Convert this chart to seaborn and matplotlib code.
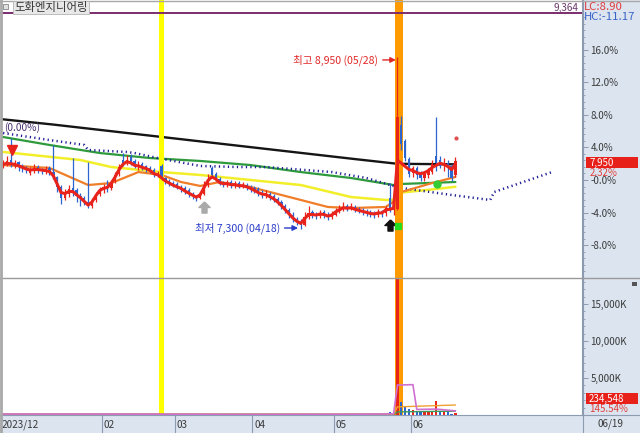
import matplotlib
matplotlib.use('Agg')
import matplotlib.pyplot as plt
from matplotlib.lines import Line2D
from matplotlib.patches import Rectangle
from matplotlib.path import Path
import seaborn as sns
import numpy as np

sns.set_style('white')
plt.rcParams['font.family'] = ['Noto Sans CJK KR', 'DejaVu Sans']

W, H = 640, 433
base = 7770  # price at 0.0%

# ---- daily candles, trading day index 0 = 2023/12/22 ... 117 = 06/19
opens = [7900, 7930, 7960, 7900, 7940, 7900, 7880, 7840, 7860, 7890,
         7870, 7850, 7880, 7850, 7800, 7700, 7600, 7640, 7690, 7670,
         7620, 7600, 7560, 7520, 7580, 7640, 7690, 7710, 7690, 7760,
         7830, 7960, 7930, 7990, 7950, 7890, 7920, 7900, 7880, 7870,
         7820, 7900, 7790, 7760, 7740, 7730, 7700, 7690, 7670, 7640,
         7620, 7600, 7640, 7720, 7880, 7830, 7780, 7740, 7720, 7750,
         7710, 7740, 7700, 7720, 7700, 7690, 7680, 7650, 7620, 7640,
         7620, 7590, 7560, 7520, 7480, 7440, 7400, 7380, 7340, 7420,
         7460, 7440, 7430, 7460, 7440, 7420, 7440, 7470, 7490, 7520,
         7500, 7510, 7490, 7480, 7470, 7460, 7450, 7440, 7470, 7450,
         7600, 7480, 7490, 8300, 8140, 7970, 7840, 7880, 7830, 7790,
         7820, 7850, 8000, 7960, 7900, 7930, 7900, 7820]
closes = [7930, 7950, 7910, 7930, 7900, 7880, 7870, 7860, 7880, 7870,
          7860, 7870, 7850, 7800, 7700, 7600, 7640, 7680, 7660, 7620,
          7600, 7560, 7520, 7580, 7640, 7680, 7700, 7690, 7750, 7820,
          7890, 7930, 7960, 7940, 7900, 7910, 7890, 7880, 7860, 7820,
          7830, 7790, 7760, 7740, 7720, 7700, 7690, 7660, 7640, 7620,
          7600, 7640, 7720, 7780, 7820, 7780, 7740, 7730, 7740, 7720,
          7730, 7710, 7720, 7700, 7690, 7670, 7650, 7630, 7640, 7610,
          7590, 7560, 7520, 7480, 7440, 7400, 7370, 7340, 7420, 7450,
          7440, 7430, 7450, 7440, 7420, 7440, 7470, 7490, 7510, 7500,
          7510, 7490, 7480, 7470, 7460, 7450, 7440, 7460, 7450, 7500,
          7480, 7500, 8370, 8110, 7980, 7830, 7880, 7820, 7790, 7840,
          7860, 7920, 7930, 7900, 7930, 7880, 7790, 7950]
highs = [7960, 8000, 8170, 7960, 7950, 7920, 7900, 7890, 7920, 7910,
         7880, 7900, 7900, 8100, 7810, 7720, 7680, 7720, 7980, 7690,
         7650, 7620, 7940, 7600, 7660, 7700, 7730, 7770, 7770, 7850,
         7920, 8030, 8010, 8020, 7970, 7950, 7940, 7910, 7900, 7880,
         7860, 7920, 7800, 7780, 7760, 7750, 7720, 7710, 7690, 7660,
         7630, 7660, 7760, 7830, 7900, 7850, 7800, 7760, 7770, 7770,
         7760, 7760, 7750, 7740, 7720, 7710, 7700, 7670, 7670, 7660,
         7640, 7610, 7580, 7540, 7500, 7460, 7420, 7400, 7460, 7520,
         7480, 7460, 7480, 7480, 7460, 7470, 7500, 7530, 7560, 7540,
         7550, 7530, 7510, 7500, 7490, 7480, 7470, 7490, 7480, 7520,
         7740, 7530, 8950, 8380, 8160, 7990, 7900, 7900, 7860, 7860,
         7880, 7960, 8370, 8000, 7980, 7960, 7920, 7990]
lows = [7880, 7900, 7890, 7880, 7860, 7850, 7840, 7820, 7840, 7840,
        7830, 7830, 7820, 7780, 7660, 7540, 7580, 7610, 7620, 7560,
        7520, 7530, 7500, 7500, 7560, 7620, 7650, 7660, 7670, 7740,
        7810, 7900, 7910, 7910, 7880, 7870, 7870, 7850, 7840, 7800,
        7800, 7770, 7730, 7710, 7700, 7680, 7660, 7640, 7610, 7590,
        7570, 7590, 7630, 7700, 7790, 7760, 7720, 7700, 7700, 7690,
        7690, 7690, 7690, 7670, 7660, 7650, 7620, 7600, 7600, 7580,
        7560, 7530, 7490, 7450, 7410, 7370, 7340, 7300, 7330, 7400,
        7410, 7400, 7410, 7410, 7390, 7400, 7430, 7450, 7470, 7470,
        7480, 7460, 7450, 7440, 7430, 7420, 7410, 7420, 7420, 7430,
        7460, 7440, 7480, 8060, 7950, 7800, 7800, 7780, 7760, 7760,
        7790, 7830, 7860, 7880, 7860, 7800, 7760, 7800]
# volume, thousands of shares
volume = [150, 120, 180, 90, 110, 80, 70, 60, 90, 70,
          60, 80, 70, 140, 160, 200, 120, 100, 150, 110,
          90, 100, 180, 120, 110, 90, 80, 70, 100, 130,
          140, 160, 120, 110, 90, 80, 70, 60, 70, 80,
          70, 120, 90, 70, 60, 80, 70, 60, 80, 70,
          90, 110, 140, 180, 130, 100, 80, 70, 60, 70,
          60, 70, 60, 80, 70, 60, 80, 90, 70, 80,
          90, 100, 110, 120, 130, 150, 140, 160, 170, 120,
          90, 80, 90, 80, 70, 80, 100, 110, 120, 90,
          80, 70, 70, 60, 60, 70, 60, 80, 90, 150,
          380, 200, 19600, 1750, 1050, 800, 650, 520, 450, 430,
          420, 480, 1900, 560, 520, 500, 96, 235]

# short moving average (red line), read per day
ma_fast = [7920, 7930, 7925, 7920, 7905, 7890, 7875, 7865, 7870, 7870,
           7865, 7860, 7850, 7810, 7730, 7650, 7640, 7660, 7660, 7630,
           7600, 7565, 7530, 7560, 7620, 7670, 7690, 7700, 7740, 7800,
           7870, 7920, 7945, 7935, 7910, 7905, 7890, 7880, 7860, 7830,
           7820, 7790, 7760, 7740, 7720, 7705, 7690, 7665, 7645, 7625,
           7605, 7630, 7700, 7765, 7800, 7780, 7745, 7735, 7735, 7725,
           7725, 7715, 7715, 7705, 7690, 7670, 7650, 7635, 7630, 7610,
           7590, 7560, 7525, 7485, 7445, 7405, 7375, 7355, 7400, 7440,
           7440, 7435, 7445, 7440, 7425, 7435, 7465, 7485, 7505, 7500,
           7505, 7490, 7480, 7470, 7460, 7450, 7445, 7455, 7455, 7485,
           7490, 7500, 7960, 7930, 7900, 7870, 7860, 7840, 7830, 7840,
           7860, 7890, 7910, 7930, 7920, 7900, 7870, 7920]

# longer averages, read at knots
ma10_idx = [0, 12, 22, 28, 35, 41, 46, 51, 56, 64, 77, 84, 90, 99, 102, 103, 111, 117]
ma10_val = [7913, 7885, 7722, 7741, 7846, 7818, 7751, 7713, 7751, 7703, 7579, 7512, 7502, 7512, 7590, 7655, 7741, 7799]
ma20_idx = [0, 20, 28, 41, 51, 77, 90, 99, 101, 102, 103, 111, 117]
ma20_val = [8038, 7961, 7894, 7846, 7818, 7722, 7607, 7579, 7580, 7625, 7650, 7680, 7705]
ma60_idx = [0, 12, 25, 38, 51, 64, 77, 90, 101, 103, 117]
ma60_val = [8181, 8105, 8028, 7980, 7952, 7913, 7846, 7789, 7722, 7732, 7751]
ma120_idx = [0, 13, 26, 39, 52, 65, 78, 91, 102, 117]
ma120_val = [8350, 8300, 8245, 8190, 8135, 8080, 8025, 7970, 7925, 7920]
span_idx = [0, 12, 21, 22, 32, 34, 40, 51, 61, 68, 85, 94, 101, 103, 116, 126, 127, 142]
span_val = [8219, 8152, 8105, 8057, 8038, 8028, 7980, 7904, 7894, 7894, 7846, 7789, 7713, 7694, 7627, 7579, 7655, 7846]

vma5_idx = [0, 30, 60, 90, 101, 102, 106, 107, 112, 117]
vma5_val = [130, 120, 90, 100, 150, 4050, 4100, 750, 800, 560]
vma20_idx = [0, 101, 102, 117]
vma20_val = [120, 115, 1100, 1350]
vma60_idx = [0, 101, 102, 117]
vma60_val = [110, 105, 420, 520]

pct_ticks = [16, 12, 8, 4, 0, -4, -8]
pct_labels = ['16.0%', '12.0%', '8.0%', '4.0%', '-0.0%', '-4.0%', '-8.0%']
vol_ticks = [5000, 10000, 15000]
vol_labels = ['5,000K', '10,000K', '15,000K']
month_idx = [26, 45, 65, 86, 106]
month_labels = ['02', '03', '04', '05', '06']

RED = '#e8231c'
BLUE = '#2c64d0'
PANEL = '#dbe4ef'
EDGE = '#8c9bb0'

o = np.array(opens); c = np.array(closes)
hi = np.array(highs); lo = np.array(lows)
idx = np.arange(len(c))
candle_col = np.where(c >= o, RED, BLUE)
prev = np.r_[c[0], c[:-1]]
vol_col = np.where(c >= prev, RED, BLUE)


def box(x0, y0, x1, y1):
    return [x0 / W, 1 - y1 / H, (x1 - x0) / W, (y1 - y0) / H]


def figline(x0, y0, x1, y1, **kw):
    fig.add_artist(Line2D([x0 / W, x1 / W], [1 - y0 / H, 1 - y1 / H],
                          transform=fig.transFigure, **kw))


fig = plt.figure(figsize=(6.4, 4.33), dpi=100)
fig.patch.set_facecolor(PANEL)

ax = fig.add_axes(box(0, 0, 582, 278))
axv = fig.add_axes(box(0, 278, 582, 415))
axd = fig.add_axes(box(0, 415, 582, 433))
XL = (-0.80, 149.74)

# ---- price panel
ax.set_facecolor('white')
ax.set_xlim(*XL)
ax.set_ylim(6833, 9491)
for a in (ax, axv):
    a.axvspan(40.32, 41.62, color='#ffff00', lw=0, zorder=2.5)
    a.axvspan(101.4, 103.4, color='#ff9a00', lw=0, zorder=2.5)

sns.lineplot(x=ma120_idx, y=ma120_val, ax=ax, color='#151515', lw=1.7, zorder=2)
sns.lineplot(x=ma60_idx, y=ma60_val, ax=ax, color='#2e9a3c', lw=1.6, zorder=2)
sns.lineplot(x=ma20_idx, y=ma20_val, ax=ax, color='#f2ee2a', lw=1.8, zorder=2)
sns.lineplot(x=span_idx, y=span_val, ax=ax, color='#1e1e96', lw=1.8,
             linestyle=(0, (0.5, 1.3)), zorder=2)
sns.lineplot(x=ma10_idx, y=ma10_val, ax=ax, color='#f07d28', lw=1.6, zorder=2.2)

ax.vlines(idx, lo, hi, colors=candle_col, lw=0.9, zorder=3)
ax.bar(idx, np.maximum(np.abs(c - o), 10), bottom=np.minimum(o, c), width=0.6,
       color=candle_col, lw=0, zorder=3)
sns.lineplot(x=idx, y=ma_fast, ax=ax, color=RED, lw=2.2, zorder=3.2)

ax.axhline(9364, color='#7b2d6b', lw=1.4, zorder=4)

arrow = Path([(0, 1), (1, 0), (0.45, 0), (0.45, -1), (-0.45, -1), (-0.45, 0), (-1, 0), (0, 1)])
ax.plot([2.2], [8060], marker='v', ms=7, color=RED, zorder=5)
ax.plot([52.0], [7512], marker=arrow, ms=8, color='#aaaaaa', zorder=5)
ax.plot([100.1], [7340], marker=arrow, ms=8, color='#111111', zorder=5)
ax.plot([102.1], [7330], marker='s', ms=5, color='#22dd22', zorder=5)
ax.plot([112.2], [7735], marker='o', ms=5, color='#33cc33', zorder=5)
ax.plot([117.2], [8172], marker='o', ms=2, color='#e05050', zorder=5)

ax.annotate('최고 8,950 (05/28)', xy=(101.6, 8918), xytext=(97.0, 8918),
            ha='right', va='center', color='#e02828', fontsize=7.6,
            arrowprops=dict(arrowstyle='-|>', color='#e02828', lw=1,
                            shrinkA=1, shrinkB=0, mutation_scale=8), zorder=6)
ax.annotate('최저 7,300 (04/18)', xy=(76.3, 7311), xytext=(71.6, 7311),
            ha='right', va='center', color='#2a3cc8', fontsize=7.6,
            arrowprops=dict(arrowstyle='-|>', color='#2a3cc8', lw=1,
                            shrinkA=1, shrinkB=0, mutation_scale=8), zorder=6)
ax.text(0.25, 8267, '(0.00%)', color='#4a3070', fontsize=7.3, ha='left', va='center', zorder=6)

ax.yaxis.tick_right()
ax.set_yticks([base * (1 + p / 100) for p in pct_ticks])
ax.set_yticklabels(pct_labels)
ax.set_yticks([base * (1 + p / 100) for p in np.arange(-12, 20.1, 0.8)], minor=True)
ax.tick_params(axis='y', which='major', length=4, width=0.7, color=EDGE,
               labelsize=7, labelcolor='#3a3a3a', pad=2)
ax.tick_params(axis='y', which='minor', length=2, width=0.6, color=EDGE)
ax.tick_params(axis='x', bottom=False, labelbottom=False)
ax.set_xlabel(''); ax.set_ylabel('')

# ---- volume panel
axv.set_facecolor('white')
axv.set_xlim(*XL)
axv.set_ylim(0, 18514)
axv.bar(idx, volume, width=0.6, color=vol_col, lw=0, zorder=3)
sns.lineplot(x=vma60_idx, y=vma60_val, ax=axv, color='#3a9a5a', lw=1.0, zorder=3.5)
sns.lineplot(x=vma20_idx, y=vma20_val, ax=axv, color='#f0a030', lw=1.0, zorder=3.5)
sns.lineplot(x=vma5_idx, y=vma5_val, ax=axv, color='#d070d0', lw=1.2, zorder=3.6)
axv.yaxis.tick_right()
axv.set_yticks(vol_ticks)
axv.set_yticklabels(vol_labels)
axv.set_yticks(np.arange(0, 18001, 1000), minor=True)
axv.tick_params(axis='y', which='major', length=4, width=0.7, color=EDGE,
                labelsize=7, labelcolor='#3a3a3a', pad=2)
axv.tick_params(axis='y', which='minor', length=2, width=0.6, color=EDGE)
axv.tick_params(axis='x', bottom=False, labelbottom=False)
axv.set_xlabel(''); axv.set_ylabel('')

for a in (ax, axv):
    for s in ('top', 'left', 'bottom'):
        a.spines[s].set_visible(False)
    a.spines['right'].set_color(EDGE)
    a.spines['right'].set_linewidth(0.8)

# ---- date strip
axd.set_facecolor(PANEL)
axd.set_xlim(*XL)
axd.set_ylim(0, 1)
axd.set_xticks([]); axd.set_yticks([])
for s in axd.spines.values():
    s.set_visible(False)
axd.text(-0.3, 0.45, '2023/12', fontsize=7.2, color='#3a3a3a', ha='left', va='center')
for i, lab in zip(month_idx, month_labels):
    axd.axvline(i - 0.5, color=EDGE, lw=0.8)
    axd.text(i - 0.05, 0.45, lab, fontsize=7.2, color='#3a3a3a', ha='left', va='center')

# ---- header and right-side labels
fig.add_artist(Rectangle((3 / W, 1 - 9 / H), 5 / W, 5 / H, transform=fig.transFigure,
                         fc='#e0e0e0', ec='#888888', lw=0.6))
fig.text(14 / W, 1 - 7.5 / H, '도화엔지니어링', fontsize=8.2, color='#333333',
         ha='left', va='center',
         bbox=dict(boxstyle='square,pad=0.12', fc='#e8e8e8', ec='#b5b5b5', lw=0.6))
fig.text(579 / W, 1 - 7.5 / H, '9,364', fontsize=7.2, color='#6b3a6b', ha='right', va='center')
fig.text(584 / W, 1 - 7.5 / H, 'LC:8.90', fontsize=8.2, color='#e03c3c', ha='left', va='center')
fig.text(584 / W, 1 - 17.5 / H, 'HC:-11.17', fontsize=8.2, color='#3a64c8', ha='left', va='center')

fig.add_artist(Rectangle((586 / W, 1 - 168 / H), 52 / W, 11 / H, transform=fig.transFigure,
                         fc='#e8201a', ec='none'))
fig.text(589 / W, 1 - 162.5 / H, '7,950', fontsize=7, color='white', ha='left', va='center')
fig.text(590 / W, 1 - 172.5 / H, '2.32%', fontsize=7, color='#e0403c', ha='left', va='center')

fig.add_artist(Rectangle((586 / W, 1 - 404 / H), 52 / W, 11 / H, transform=fig.transFigure,
                         fc='#e8201a', ec='none'))
fig.text(589 / W, 1 - 398.5 / H, '234,548', fontsize=7, color='white', ha='left', va='center')
fig.text(589 / W, 1 - 409.5 / H, '145.54%', fontsize=7, color='#e0403c', ha='left', va='center')
fig.add_artist(Rectangle((632 / W, 1 - 286 / H), 5 / W, 4 / H, transform=fig.transFigure,
                         fc='#555555', ec='none'))

fig.text(598 / W, 1 - 424 / H, '06/19', fontsize=7.2, color='#3a3a3a', ha='left', va='center')

figline(582.5, 0, 582.5, 433, color=EDGE, lw=0.8)
figline(0, 278, 640, 278, color='#9a9a9a', lw=1.0)
figline(0, 415, 640, 415, color=EDGE, lw=0.8)
figline(1, 0, 1, 433, color='#a8a8a8', lw=2)
figline(0, 0.5, 640, 0.5, color='#a8a8a8', lw=1)

fig.savefig('out.png', dpi=100, facecolor=fig.get_facecolor())
